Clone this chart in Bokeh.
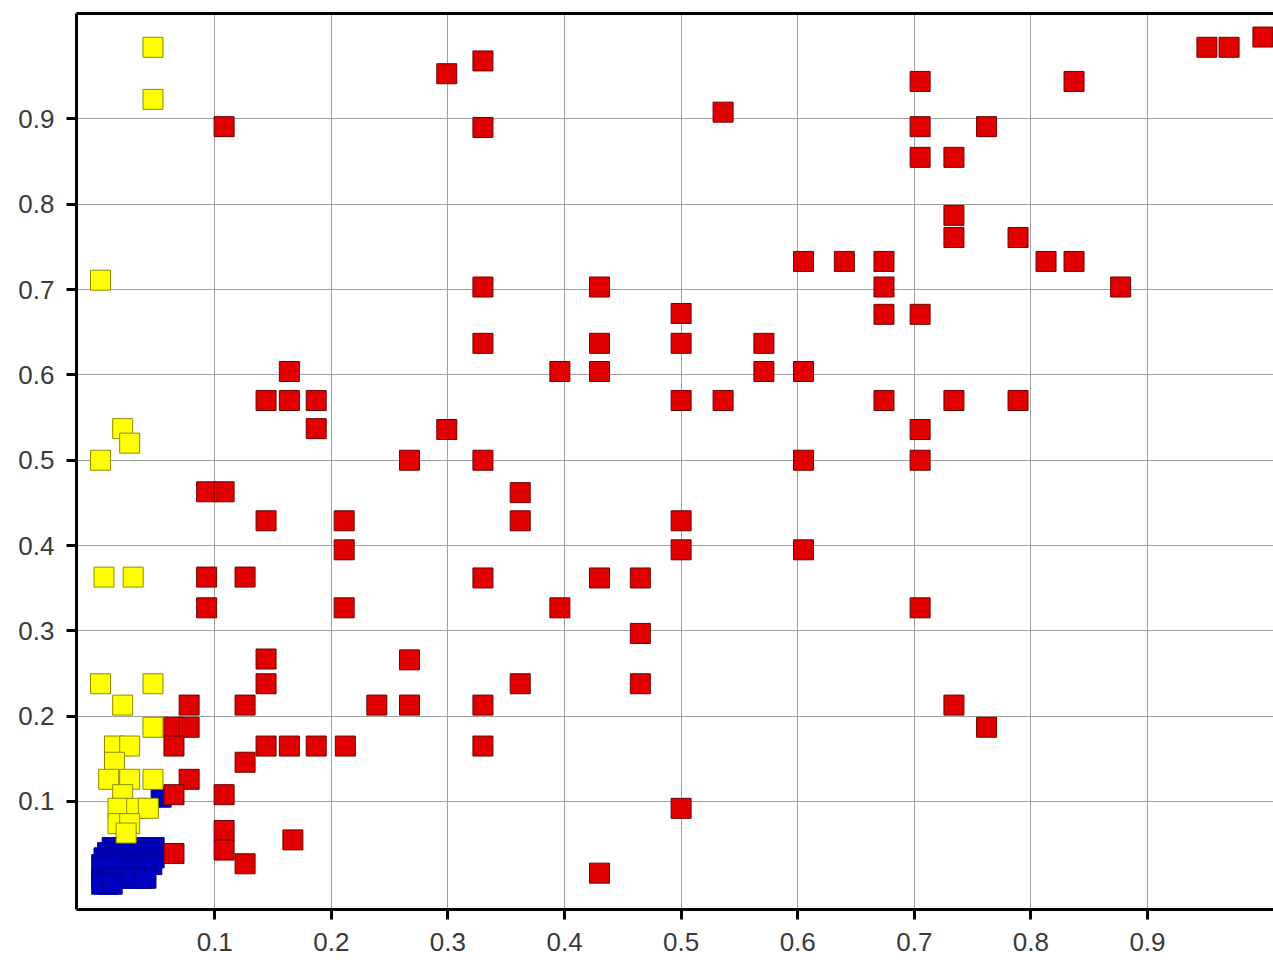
from bokeh.plotting import figure
from bokeh.models import LinearAxis, FixedTicker, Range1d, ColumnDataSource
from bokeh.embed import file_html
from bokeh.resources import INLINE

# Tick positions and their labels (both axes)
tick_values = [0.1, 0.2, 0.3, 0.4, 0.5, 0.6, 0.7, 0.8, 0.9]
tick_labels = ["0.1", "0.2", "0.3", "0.4", "0.5", "0.6", "0.7", "0.8", "0.9"]

# Cluster 1 (blue): tight group near the origin
blue_x = [0.012, 0.022, 0.031, 0.040, 0.048,
          0.008, 0.017, 0.027, 0.036, 0.045,
          0.005, 0.014, 0.024, 0.033, 0.042, 0.048,
          0.003, 0.010, 0.020, 0.029, 0.038, 0.046,
          0.004, 0.013, 0.022, 0.031, 0.040,
          0.003, 0.011, 0.019, 0.028, 0.037, 0.041,
          0.003, 0.008, 0.012,
          0.054]
blue_y = [0.046, 0.046, 0.046, 0.046, 0.046,
          0.040, 0.040, 0.040, 0.040, 0.040,
          0.034, 0.034, 0.034, 0.034, 0.034, 0.034,
          0.026, 0.026, 0.026, 0.026, 0.026, 0.026,
          0.018, 0.018, 0.018, 0.018, 0.018,
          0.010, 0.010, 0.010, 0.010, 0.010, 0.010,
          0.003, 0.003, 0.003,
          0.105]

# Cluster 2 (yellow): small x, spread along y
yellow_x = [0.047, 0.047, 0.002, 0.021, 0.027, 0.002, 0.005, 0.030,
            0.002, 0.047, 0.021, 0.047, 0.014, 0.027, 0.014, 0.009,
            0.027, 0.047, 0.021, 0.017, 0.033, 0.043, 0.017, 0.027, 0.024]
yellow_y = [0.984, 0.923, 0.711, 0.537, 0.520, 0.500, 0.363, 0.363,
            0.238, 0.238, 0.213, 0.187, 0.165, 0.165, 0.146, 0.126,
            0.126, 0.126, 0.108, 0.092, 0.092, 0.092, 0.074, 0.074, 0.063]

# Cluster 3 (red): everything else
red_x = [0.951, 0.970, 0.999,
         0.299, 0.330,
         0.108, 0.330,
         0.536,
         0.705, 0.837,
         0.705, 0.762,
         0.705, 0.734,
         0.734, 0.734, 0.789,
         0.605, 0.640, 0.674, 0.813, 0.837,
         0.330, 0.430, 0.674, 0.877,
         0.500, 0.674, 0.705,
         0.330, 0.430, 0.500, 0.571,
         0.164, 0.396, 0.430, 0.571, 0.605,
         0.144, 0.164, 0.187, 0.500, 0.536, 0.674, 0.734, 0.789,
         0.187, 0.299, 0.705,
         0.267, 0.330, 0.605, 0.705,
         0.093, 0.108, 0.362,
         0.144, 0.211, 0.362, 0.500,
         0.211, 0.500, 0.605,
         0.093, 0.126, 0.330, 0.430, 0.465,
         0.093, 0.211, 0.396, 0.705,
         0.465,
         0.144, 0.267,
         0.144, 0.362, 0.465,
         0.078, 0.126, 0.239, 0.267, 0.330, 0.734,
         0.065, 0.078, 0.762,
         0.065, 0.144, 0.164, 0.187, 0.212, 0.330,
         0.126,
         0.078,
         0.065, 0.108,
         0.500,
         0.108, 0.108, 0.167,
         0.065,
         0.126,
         0.430]
red_y = [0.984, 0.984, 0.996,
         0.953, 0.968,
         0.891, 0.890,
         0.908,
         0.944, 0.944,
         0.891, 0.891,
         0.855, 0.855,
         0.787, 0.761, 0.761,
         0.733, 0.733, 0.733, 0.733, 0.733,
         0.703, 0.703, 0.703, 0.703,
         0.672, 0.671, 0.671,
         0.637, 0.637, 0.637, 0.637,
         0.604, 0.604, 0.604, 0.604, 0.604,
         0.570, 0.570, 0.570, 0.570, 0.570, 0.570, 0.570, 0.570,
         0.537, 0.536, 0.536,
         0.500, 0.500, 0.500, 0.500,
         0.463, 0.463, 0.462,
         0.429, 0.429, 0.429, 0.429,
         0.395, 0.395, 0.395,
         0.363, 0.363, 0.362, 0.362, 0.362,
         0.327, 0.327, 0.327, 0.327,
         0.297,
         0.267, 0.266,
         0.238, 0.238, 0.238,
         0.213, 0.213, 0.213, 0.213, 0.213, 0.213,
         0.187, 0.187, 0.187,
         0.165, 0.165, 0.165, 0.165, 0.165, 0.165,
         0.146,
         0.126,
         0.108, 0.108,
         0.092,
         0.066, 0.043, 0.055,
         0.039,
         0.027,
         0.016]

p = figure(width=1273, height=962, output_backend="svg", toolbar_location=None,
           x_range=Range1d(-0.0186, 1.0081), y_range=Range1d(-0.0266, 1.0236),
           min_border_left=76, min_border_right=0, min_border_top=13,
           min_border_bottom=53, x_axis_location=None, y_axis_location=None)
p.outline_line_color = None
p.background_fill_color = "white"
p.border_fill_color = "white"

label_map = {v: s for v, s in zip(tick_values, tick_labels)}


def styled_axis(show_labels=True):
    ax = LinearAxis(ticker=FixedTicker(ticks=tick_values, minor_ticks=[]))
    ax.axis_line_color = "black"
    ax.axis_line_width = 3
    ax.major_tick_line_color = "black"
    ax.major_tick_line_width = 3
    ax.major_tick_in = 0
    ax.major_tick_out = 10
    ax.minor_tick_line_color = None
    ax.major_label_overrides = label_map
    ax.major_label_text_font = "Liberation Sans"
    ax.major_label_text_font_size = "26px"
    ax.major_label_text_color = "#3a3a3a"
    if not show_labels:
        ax.major_tick_line_color = None
        ax.major_label_text_font_size = "0px"
        ax.major_label_text_color = None
    return ax


x_axis = styled_axis()
x_axis.major_label_standoff = 13
y_axis = styled_axis()
y_axis.major_label_standoff = 12
top_line = styled_axis(show_labels=False)

p.add_layout(x_axis, "below")
p.add_layout(y_axis, "left")
p.add_layout(top_line, "above")

p.xgrid.ticker = FixedTicker(ticks=tick_values)
p.ygrid.ticker = FixedTicker(ticks=tick_values)
for g in (p.xgrid, p.ygrid):
    g.grid_line_color = "#a0a0a0"
    g.grid_line_width = 1

p.scatter(x="x", y="y", source=ColumnDataSource(dict(x=blue_x, y=blue_y)),
          marker="square", size=20, fill_color="#0000c0",
          line_color="#000090", line_width=1)
p.scatter(x="x", y="y", source=ColumnDataSource(dict(x=yellow_x, y=yellow_y)),
          marker="square", size=20, fill_color="#ffff00",
          line_color="#8c8c00", line_width=1)
p.scatter(x="x", y="y", source=ColumnDataSource(dict(x=red_x, y=red_y)),
          marker="square", size=20, fill_color="#e00000",
          line_color="#700000", line_width=1)

open("out.html", "w").write(file_html(p, INLINE))
